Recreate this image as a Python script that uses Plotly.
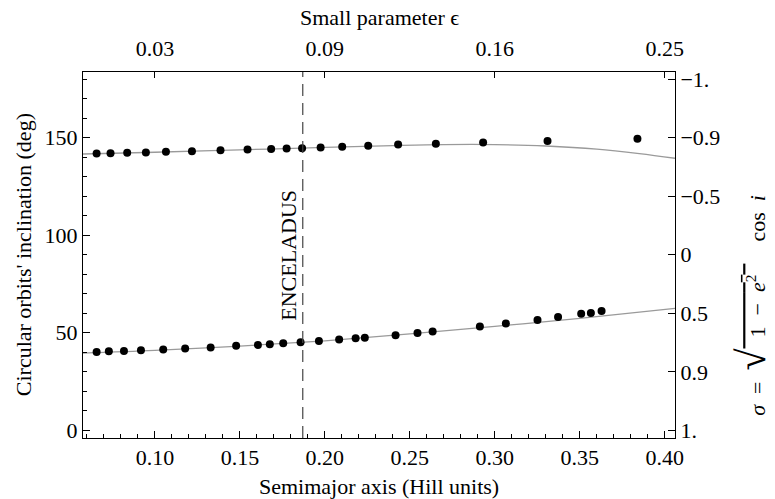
import plotly.graph_objects as go

# ---- data ----
a_upper = [0.0657, 0.0739, 0.0837, 0.0947, 0.1065, 0.1218, 0.1386, 0.1545, 0.1684, 0.1775,
           0.1866, 0.1975, 0.2102, 0.2255, 0.2431, 0.2653, 0.2931, 0.3310, 0.3839]
inc_upper = [141.8, 142.0, 142.2, 142.3, 142.7, 143.0, 143.5, 143.9, 144.2, 144.4,
             144.5, 144.9, 145.3, 145.8, 146.4, 146.9, 147.5, 148.3, 149.4]

a_lower = [0.0657, 0.0729, 0.0818, 0.0918, 0.1049, 0.1178, 0.1328, 0.1478, 0.1606, 0.1676,
           0.1755, 0.1857, 0.1965, 0.2084, 0.2181, 0.2235, 0.2416, 0.2545, 0.2634, 0.2912,
           0.3065, 0.3251, 0.3372, 0.3508, 0.3565, 0.3628]
inc_lower = [40.2, 40.5, 40.7, 41.0, 41.4, 41.9, 42.5, 43.3, 43.8, 44.1,
             44.6, 45.1, 45.8, 46.5, 47.2, 47.5, 48.7, 49.9, 50.6, 53.2,
             54.7, 56.6, 58.1, 59.7, 60.2, 61.2]

curve_upper_a = [0.0577, 0.10, 0.15, 0.20, 0.24, 0.27, 0.30, 0.33, 0.36, 0.385, 0.406]
curve_upper = [141.6, 142.5, 143.7, 145.0, 145.9, 146.4, 146.4, 145.7, 144.1, 141.8, 139.4]

curve_lower_a = [0.0577, 0.10, 0.15, 0.20, 0.25, 0.30, 0.35, 0.406]
curve_lower = [39.6, 41.0, 43.2, 45.9, 49.4, 53.3, 57.4, 62.5]

enceladus_a = 0.187

x_range = [0.0577, 0.406]
y_range = [-3.9, 183.6]

top_tickvals = [0.10, 0.20, 0.30, 0.40]
top_ticktext = ["0.03", "0.09", "0.16", "0.25"]

right_tickvals = [180, 150, 120, 90, 60, 30, 0]
right_ticktext = ["\u22121.", "\u22120.9", "\u22120.5", "0", "0.5", "0.9", "1."]

FONT = "Liberation Serif, Times New Roman, serif"
FS = 22

fig = go.Figure()
fig.add_trace(go.Scatter(x=curve_upper_a, y=curve_upper, mode="lines",
                         line=dict(color="#9a9a9a", width=1.3, shape="spline"),
                         showlegend=False, hoverinfo="skip"))
fig.add_trace(go.Scatter(x=curve_lower_a, y=curve_lower, mode="lines",
                         line=dict(color="#9a9a9a", width=1.3, shape="spline"),
                         showlegend=False, hoverinfo="skip"))
fig.add_trace(go.Scatter(x=a_upper, y=inc_upper, mode="markers",
                         marker=dict(color="black", size=8), showlegend=False))
fig.add_trace(go.Scatter(x=a_lower, y=inc_lower, mode="markers",
                         marker=dict(color="black", size=8), showlegend=False))
# carrier trace so the top and right axes are drawn
fig.add_trace(go.Scatter(x=[None], y=[None], xaxis="x2", yaxis="y2", mode="markers",
                         showlegend=False, hoverinfo="skip"))

fig.add_shape(type="line", xref="x", yref="paper", x0=enceladus_a, x1=enceladus_a,
              y0=0, y1=1, line=dict(color="#444444", width=1.2, dash="12px,7px"))

txtfont = dict(family=FONT, size=FS, color="black")

fig.add_annotation(x=enceladus_a, y=0.5, xref="x", yref="paper", text="ENCELADUS",
                   textangle=-90, showarrow=False, xshift=-15,
                   xanchor="center", yanchor="middle", font=txtfont)

# axis titles
fig.add_annotation(x=0.5, y=-0.133, xref="paper", yref="paper",
                   text="Semimajor axis (Hill units)", showarrow=False,
                   xanchor="center", yanchor="middle", font=txtfont)
fig.add_annotation(x=0.5, y=1.149, xref="paper", yref="paper",
                   text="Small parameter \u03f5", showarrow=False,
                   xanchor="center", yanchor="middle", font=txtfont)
fig.add_annotation(x=-0.101, y=0.5, xref="paper", yref="paper",
                   text="Circular orbits' inclination (deg)", showarrow=False,
                   textangle=-90, xanchor="center", yanchor="middle", font=txtfont)

sigma_label = ("<i>\u03c3</i>\u2002=\u2002<span style='font-size:40px'>\u221a</span>"
               "<span style='text-decoration:overline'>\u20021\u2002\u2212\u2002<i>e</i><sup>2</sup>\u2002</span>"
               "\u2003cos\u2002<i>i</i>")
fig.add_annotation(x=1.13, y=0.364, xref="paper", yref="paper", text=sigma_label,
                   textangle=-90, showarrow=False, xanchor="center", yanchor="middle",
                   font=txtfont)

axis_common = dict(showgrid=False, zeroline=False, showline=True, linecolor="black",
                   linewidth=1, ticks="inside", tickcolor="black", automargin=False,
                   tickfont=dict(family=FONT, size=FS, color="black"))

fig.update_layout(
    width=775, height=499,
    margin=dict(l=83, r=100, t=72, b=61),
    paper_bgcolor="white", plot_bgcolor="white",
    font=dict(family=FONT, size=FS, color="black"),
    xaxis=dict(range=x_range, tick0=0, dtick=0.05, tickformat=".2f", ticklen=7,
               minor=dict(dtick=0.01, tick0=0, ticklen=4, ticks="inside", tickcolor="black"),
               **axis_common),
    xaxis2=dict(range=x_range, overlaying="x", side="top", anchor="y2",
                tickvals=top_tickvals, ticktext=top_ticktext, ticklen=6,
                ticklabelstandoff=6, **axis_common),
    yaxis=dict(range=y_range, tick0=0, dtick=50, ticklen=7,
               minor=dict(dtick=10, tick0=0, ticklen=4, ticks="inside", tickcolor="black"),
               **axis_common),
    yaxis2=dict(range=y_range, overlaying="y", side="right", anchor="x2",
                tickvals=right_tickvals, ticktext=right_ticktext, ticklen=7,
                **axis_common),
)

fig.write_html("out.html")
